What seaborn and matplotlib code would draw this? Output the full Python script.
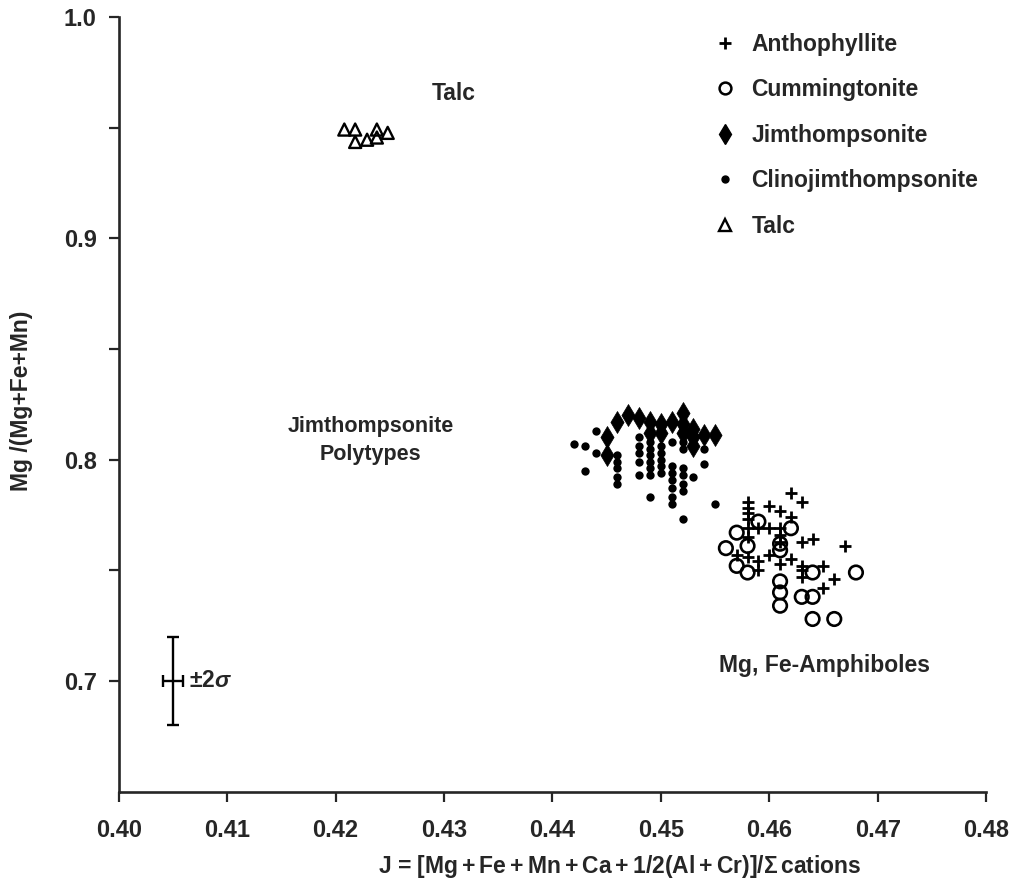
import numpy as np
import pandas as pd
import matplotlib
matplotlib.use('Agg')
import matplotlib.pyplot as plt
from matplotlib.lines import Line2D
import seaborn as sns

# values: J (x) and Mg/(Mg+Fe+Mn) (y)
anth_j = [0.458, 0.458, 0.458, 0.458, 0.458, 0.458, 0.460, 0.461, 0.462, 0.463, 0.462,
          0.459, 0.460, 0.461, 0.461, 0.461, 0.463, 0.464, 0.467,
          0.457, 0.458, 0.459, 0.459, 0.460, 0.461, 0.462,
          0.463, 0.463, 0.463, 0.465, 0.466, 0.465]
anth_mg = [0.781, 0.778, 0.776, 0.773, 0.769, 0.765, 0.779, 0.777, 0.785, 0.781, 0.774,
           0.769, 0.769, 0.769, 0.766, 0.763, 0.763, 0.764, 0.761,
           0.757, 0.756, 0.754, 0.750, 0.757, 0.753, 0.755,
           0.752, 0.750, 0.747, 0.752, 0.746, 0.742]

cumm_j = [0.459, 0.457, 0.458, 0.456, 0.457, 0.458, 0.462, 0.461, 0.461,
          0.461, 0.461, 0.461, 0.463, 0.464, 0.464, 0.468, 0.464, 0.466]
cumm_mg = [0.772, 0.767, 0.761, 0.760, 0.752, 0.749, 0.769, 0.762, 0.759,
           0.745, 0.740, 0.734, 0.738, 0.738, 0.749, 0.749, 0.728, 0.728]

jim_j = [0.445, 0.445, 0.446, 0.447, 0.448, 0.449, 0.449, 0.450, 0.450,
         0.451, 0.452, 0.452, 0.452, 0.453, 0.453, 0.453, 0.454, 0.455]
jim_mg = [0.810, 0.802, 0.817, 0.820, 0.819, 0.817, 0.812, 0.816, 0.812,
          0.817, 0.821, 0.816, 0.812, 0.814, 0.810, 0.806, 0.811, 0.811]

clino_j = [0.442, 0.443, 0.443, 0.444, 0.444,
           0.446, 0.446, 0.446, 0.446, 0.446,
           0.448, 0.448, 0.448, 0.448, 0.448,
           0.449, 0.449, 0.449, 0.449, 0.449, 0.449, 0.449,
           0.450, 0.450, 0.450, 0.450, 0.450,
           0.451, 0.451, 0.451, 0.451, 0.451, 0.451, 0.451,
           0.452, 0.452, 0.452, 0.452, 0.452, 0.452, 0.452,
           0.453, 0.454, 0.454, 0.455]
clino_mg = [0.807, 0.806, 0.795, 0.813, 0.803,
            0.802, 0.799, 0.796, 0.792, 0.789,
            0.810, 0.806, 0.803, 0.799, 0.793,
            0.808, 0.805, 0.802, 0.799, 0.796, 0.793, 0.783,
            0.806, 0.803, 0.800, 0.797, 0.794,
            0.808, 0.797, 0.794, 0.791, 0.787, 0.783, 0.780,
            0.808, 0.805, 0.796, 0.793, 0.789, 0.786, 0.773,
            0.792, 0.805, 0.798, 0.780]

talc_j = [0.4208, 0.4218, 0.4218, 0.4229, 0.4238, 0.4238, 0.4248]
talc_mg = [0.9491, 0.9491, 0.9435, 0.9445, 0.9491, 0.9455, 0.9476]

x_ticks = [0.40, 0.41, 0.42, 0.43, 0.44, 0.45, 0.46, 0.47, 0.48]
y_ticks = [0.7, 0.75, 0.8, 0.85, 0.9, 0.95, 1.0]
y_labels = ['0.7', '', '0.8', '', '0.9', '', '1.0']

sns.set_style('ticks')
plt.rcParams['font.family'] = ['Liberation Sans', 'DejaVu Sans']
plt.rcParams['font.weight'] = 'bold'
plt.rcParams['mathtext.fontset'] = 'custom'
plt.rcParams['mathtext.rm'] = 'Liberation Sans:bold'
plt.rcParams['mathtext.bf'] = 'Liberation Sans:bold'
plt.rcParams['mathtext.it'] = 'Liberation Sans:italic'

FS = 16.5

fig, ax = plt.subplots(figsize=(10.16, 8.88), dpi=100)
fig.subplots_adjust(left=0.117, right=0.9705, bottom=0.1085, top=0.981)

sns.scatterplot(x=anth_j, y=anth_mg, marker='+', s=85, color='black', linewidth=2.0, ax=ax)
sns.scatterplot(x=cumm_j, y=cumm_mg, marker='o', s=95, facecolor='none', edgecolor='black',
                linewidth=1.9, ax=ax)
sns.scatterplot(x=jim_j, y=jim_mg, marker='d', s=125, color='black', edgecolor='black',
                linewidth=0.5, ax=ax)
sns.scatterplot(x=clino_j, y=clino_mg, marker='o', s=36, color='black', edgecolor='black',
                linewidth=0, ax=ax)
sns.scatterplot(x=talc_j, y=talc_mg, marker='^', s=75, facecolor='none', edgecolor='black',
                linewidth=1.7, ax=ax)

# +/- 2 sigma error bar
ax.errorbar(0.405, 0.70, xerr=0.0009, yerr=0.02, color='black', capsize=4.5,
            elinewidth=1.7, capthick=1.7)
ax.text(0.4065, 0.70, r'$\pm$2$\it{\sigma}$', fontsize=FS, fontweight='bold', va='center', ha='left')

ax.text(0.4309, 0.9655, 'Talc', fontsize=FS, fontweight='bold', ha='center', va='center')
ax.text(0.4232, 0.8086, 'Jimthompsonite\nPolytypes', fontsize=15.5, fontweight='bold',
        ha='center', va='center', linespacing=1.4)
ax.text(0.4651, 0.7072, 'Mg, Fe-Amphiboles', fontsize=FS, fontweight='bold', ha='center', va='center')

ax.set_xlim(0.40, 0.48)
ax.set_ylim(0.65, 1.0)
ax.set_xticks(x_ticks)
ax.set_xticklabels(['%.2f' % v for v in x_ticks])
ax.set_yticks(y_ticks)
ax.set_yticklabels(y_labels)
ax.tick_params(axis='both', length=7, width=1.6, labelsize=17)
ax.tick_params(axis='x', pad=13)
ax.tick_params(axis='y', pad=9)
for lab in ax.get_xticklabels() + ax.get_yticklabels():
    lab.set_fontweight('bold')
sns.despine(ax=ax)
for sp in ['left', 'bottom']:
    ax.spines[sp].set_linewidth(1.9)

ax.set_xlabel(r'J = $\left[\mathbf{Mg+Fe+Mn+Ca+1/2(Al+Cr)}\right]/\Sigma\,$cations',
              fontsize=FS, fontweight='bold')
ax.xaxis.label.set_va('center')
ax.xaxis.set_label_coords(0.578, -0.096)
ax.set_ylabel('Mg /(Mg+Fe+Mn)', fontsize=FS, fontweight='bold')
ax.yaxis.label.set_va('center')
ax.yaxis.set_label_coords(-0.112, 0.505)

handles = [
    Line2D([], [], marker='+', color='black', linestyle='none', markersize=9, markeredgewidth=2.0),
    Line2D([], [], marker='o', markerfacecolor='none', markeredgecolor='black', linestyle='none',
           markersize=8.5, markeredgewidth=1.8),
    Line2D([], [], marker='d', color='black', linestyle='none', markersize=10.5),
    Line2D([], [], marker='o', color='black', linestyle='none', markersize=5),
    Line2D([], [], marker='^', markerfacecolor='none', markeredgecolor='black', linestyle='none',
           markersize=8.5, markeredgewidth=1.7),
]
labels = ['Anthophyllite', 'Cummingtonite', 'Jimthompsonite', 'Clinojimthompsonite', 'Talc']
leg = ax.legend(handles, labels, loc='upper left', bbox_to_anchor=(0.667, 1.0), frameon=False,
                prop={'size': FS, 'weight': 'bold'}, handlelength=1.0, handletextpad=0.67,
                labelspacing=0.98, borderpad=0.2)

plt.savefig('out.png', dpi=100)
